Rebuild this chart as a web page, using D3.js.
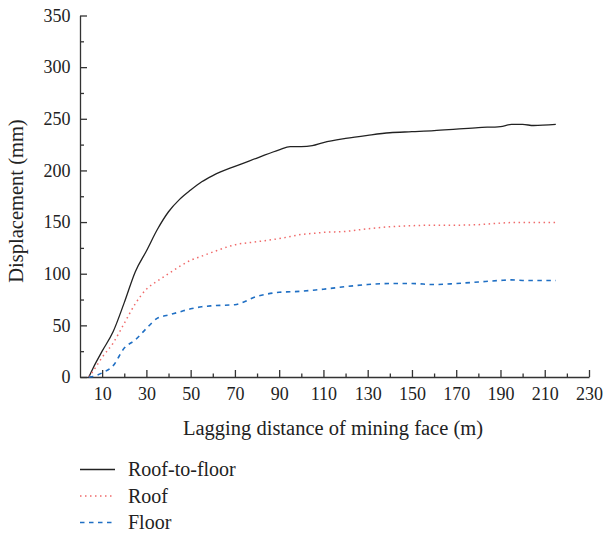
<!DOCTYPE html>
<html>
<head>
<meta charset="utf-8">
<script src="https://cdn.jsdelivr.net/npm/d3@7"></script>
<style>
  body { margin: 0; background: #fff; }
  .axis path, .axis line { stroke: #333; stroke-width: 1.3; }
</style>
</head>
<body>
<div id="chart"></div>
<script>
// data
var distance = [4, 6, 10, 15, 20, 25, 30, 35, 40, 45, 50, 55, 60, 70, 80, 90, 95, 100, 105, 110, 120, 130, 140, 150, 160, 170, 180, 190, 195, 200, 205, 215];
var roofToFloor = [0, 9, 25, 44, 72, 102, 122, 143, 160, 172, 181, 189, 195, 204, 212, 220, 223, 223, 224, 227, 231, 234, 236.5, 237.5, 238.5, 240, 241.5, 242.5, 244.5, 244.5, 243.5, 244.5];
var roof = [0, 6, 19, 33, 52, 71, 85, 93, 100, 107, 113, 117, 121, 128, 131, 134, 136, 138, 139, 140, 141, 143.5, 145.5, 146.5, 147, 147, 147.5, 149, 149.5, 149.5, 149.5, 149.5];
var floor = [0, 0.5, 4, 11, 28, 36, 47, 57, 60, 63, 66, 68, 69, 70, 78, 82, 82.5, 83, 84, 85, 87.5, 89.5, 90.5, 90.5, 89.5, 90.5, 92, 93.5, 94, 93.5, 93.5, 93.5];

var xMajor = [10, 30, 50, 70, 90, 110, 130, 150, 170, 190, 210, 230];
var xMinor = [20, 40, 60, 80, 100, 120, 140, 160, 180, 200, 220];
var yMajor = [0, 50, 100, 150, 200, 250, 300, 350];
var yMinor = [25, 75, 125, 175, 225, 275, 325];

var seriesNames = ["Roof-to-floor", "Roof", "Floor"];

var svgWidth = 606;
var svgHeight = 533;
var margin = { top: 15.5, left: 80 };
var chartWidth = 509;
var chartHeight = 361.5;
var serif = "'Liberation Serif', 'Times New Roman', serif";

var svg = d3.select("#chart")
  .append("svg")
  .attr("width", svgWidth)
  .attr("height", svgHeight)
  .attr("font-family", serif);

var chart = svg.append("g")
  .attr("transform", `translate(${margin.left}, ${margin.top})`);

var x = d3.scaleLinear().domain([0, 230]).range([0, chartWidth]);
var y = d3.scaleLinear().domain([0, 350]).range([chartHeight, 0]);

// minor ticks first
chart.append("g")
  .attr("class", "axis")
  .attr("transform", `translate(0, ${chartHeight})`)
  .call(d3.axisBottom(x).tickValues(xMinor).tickSize(-3.5).tickFormat(""))
  .call(g => g.select(".domain").remove());

chart.append("g")
  .attr("class", "axis")
  .call(d3.axisLeft(y).tickValues(yMinor).tickSize(-4).tickFormat(""))
  .call(g => g.select(".domain").remove());

var xAxis = chart.append("g")
  .attr("class", "axis")
  .attr("transform", `translate(0, ${chartHeight})`)
  .call(d3.axisBottom(x).tickValues(xMajor).tickSizeInner(-7).tickSizeOuter(0).tickPadding(10));
xAxis.attr("font-family", serif);
xAxis.selectAll("text").attr("font-size", 18).attr("fill", "#222");

var yAxis = chart.append("g")
  .attr("class", "axis")
  .call(d3.axisLeft(y).tickValues(yMajor).tickSizeInner(-7).tickSizeOuter(0).tickPadding(9.5));
yAxis.attr("font-family", serif);
yAxis.selectAll("text").attr("font-size", 18).attr("fill", "#222");

var line = d3.line()
  .x((d, i) => x(distance[i]))
  .y(d => y(d))
  .curve(d3.curveMonotoneX);

var styles = [
  { data: roofToFloor, color: "#222", dash: null, width: 1.3 },
  { data: roof, color: "#f06a6a", dash: "1.5,3.5", width: 1.5 },
  { data: floor, color: "#1f6fc4", dash: "4.5,4.5", width: 1.6 }
];

styles.forEach(function(s) {
  chart.append("path")
    .datum(s.data)
    .attr("fill", "none")
    .attr("stroke", s.color)
    .attr("stroke-width", s.width)
    .attr("stroke-dasharray", s.dash)
    .attr("d", line);
});

// axis titles
svg.append("text")
  .attr("transform", "translate(23, 201) rotate(-90)")
  .attr("text-anchor", "middle")
  .attr("font-size", 20.5)
  .attr("fill", "#222")
  .text("Displacement (mm)");

svg.append("text")
  .attr("x", 333)
  .attr("y", 435)
  .attr("text-anchor", "middle")
  .attr("font-size", 20.5)
  .attr("fill", "#222")
  .text("Lagging distance of mining face (m)");

// legend
var legend = svg.append("g").attr("transform", "translate(80, 469.5)");
seriesNames.forEach(function(name, i) {
  var row = legend.append("g").attr("transform", `translate(0, ${i * 26.5})`);
  row.append("line")
    .attr("x1", 0).attr("x2", 35)
    .attr("stroke", styles[i].color)
    .attr("stroke-width", styles[i].width)
    .attr("stroke-dasharray", styles[i].dash);
  row.append("text")
    .attr("x", 48)
    .attr("dy", "0.33em")
    .attr("font-size", 20)
    .attr("fill", "#222")
    .text(name);
});
</script>
</body>
</html>
